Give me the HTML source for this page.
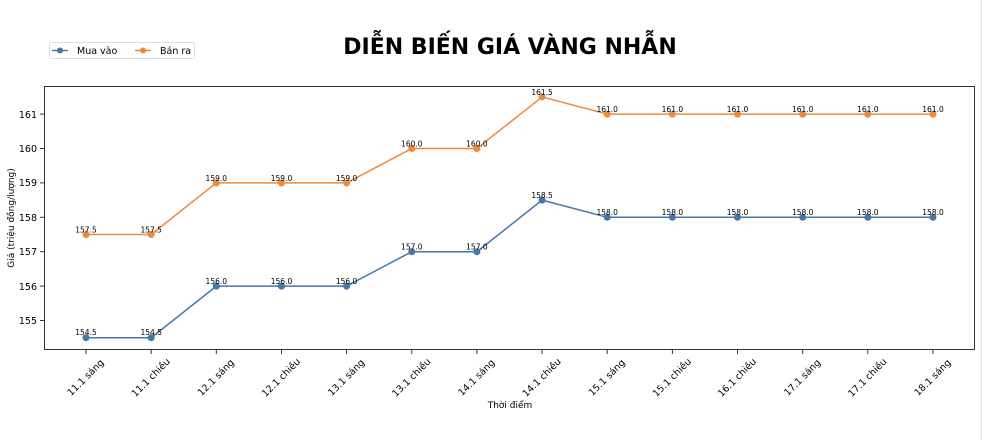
<!DOCTYPE html>
<html><head><meta charset="utf-8"><style>body{margin:0;background:#fff}svg{display:block}text{font-family:"DejaVu Sans","Liberation Sans",sans-serif}</style></head><body>
<svg width="982" height="440" viewBox="0 0 982 440" xmlns="http://www.w3.org/2000/svg">
<rect width="982" height="440" fill="#fff"/>
<line x1="981.5" y1="0" x2="981.5" y2="440" stroke="#ddd"/>
<text x="510" y="54" text-anchor="middle" font-size="22" font-weight="bold" fill="#000">DIỄN BIẾN GIÁ VÀNG NHẪN</text>
<rect x="49.5" y="42.5" width="145" height="16" fill="#fff" stroke="#ddd" rx="2"/>
<line x1="52" y1="50.5" x2="68" y2="50.5" stroke="#4477aa" stroke-width="1.5"/><circle cx="60" cy="50.5" r="3" fill="#4477aa"/>
<text x="77" y="54" font-size="9.5">Mua vào</text>
<line x1="135" y1="50.5" x2="151" y2="50.5" stroke="#ee8a3c" stroke-width="1.5"/><circle cx="143" cy="50.5" r="3" fill="#ee8a3c"/>
<text x="160" y="54" font-size="9.5">Bán ra</text>
<rect x="44.5" y="86.5" width="930" height="263" fill="none" stroke="#333" stroke-width="1"/>
<g stroke="#333"><line x1="40" y1="320.5" x2="44" y2="320.5"/><line x1="40" y1="286.1" x2="44" y2="286.1"/><line x1="40" y1="251.7" x2="44" y2="251.7"/><line x1="40" y1="217.3" x2="44" y2="217.3"/><line x1="40" y1="182.9" x2="44" y2="182.9"/><line x1="40" y1="148.5" x2="44" y2="148.5"/><line x1="40" y1="114.1" x2="44" y2="114.1"/></g>
<g font-size="9.5" text-anchor="end"><text x="37" y="324">155</text><text x="37" y="290">156</text><text x="37" y="255">157</text><text x="37" y="221">158</text><text x="37" y="186">159</text><text x="37" y="152">160</text><text x="37" y="118">161</text></g>
<text transform="translate(14,218) rotate(-90)" text-anchor="middle" font-size="9">Giá (triệu đồng/lượng)</text>
<text x="510" y="408" text-anchor="middle" font-size="9">Thời điểm</text>
<g stroke="#333"><line x1="86" y1="350" x2="86" y2="354"/><line x1="151.2" y1="350" x2="151.2" y2="354"/><line x1="216.3" y1="350" x2="216.3" y2="354"/><line x1="281.5" y1="350" x2="281.5" y2="354"/><line x1="346.6" y1="350" x2="346.6" y2="354"/><line x1="411.8" y1="350" x2="411.8" y2="354"/><line x1="476.9" y1="350" x2="476.9" y2="354"/><line x1="542.1" y1="350" x2="542.1" y2="354"/><line x1="607.2" y1="350" x2="607.2" y2="354"/><line x1="672.4" y1="350" x2="672.4" y2="354"/><line x1="737.5" y1="350" x2="737.5" y2="354"/><line x1="802.7" y1="350" x2="802.7" y2="354"/><line x1="867.8" y1="350" x2="867.8" y2="354"/><line x1="933" y1="350" x2="933" y2="354"/></g>
<g font-size="9.5" text-anchor="middle" dominant-baseline="central">
<text transform="translate(86,378) rotate(-45)">11.1 sáng</text>
<text transform="translate(151.2,378) rotate(-45)">11.1 chiều</text>
<text transform="translate(216.3,378) rotate(-45)">12.1 sáng</text>
<text transform="translate(281.5,378) rotate(-45)">12.1 chiều</text>
<text transform="translate(346.6,378) rotate(-45)">13.1 sáng</text>
<text transform="translate(411.8,378) rotate(-45)">13.1 chiều</text>
<text transform="translate(476.9,378) rotate(-45)">14.1 sáng</text>
<text transform="translate(542.1,378) rotate(-45)">14.1 chiều</text>
<text transform="translate(607.2,378) rotate(-45)">15.1 sáng</text>
<text transform="translate(672.4,378) rotate(-45)">15.1 chiều</text>
<text transform="translate(737.5,378) rotate(-45)">16.1 chiều</text>
<text transform="translate(802.7,378) rotate(-45)">17.1 sáng</text>
<text transform="translate(867.8,378) rotate(-45)">17.1 chiều</text>
<text transform="translate(933,378) rotate(-45)">18.1 sáng</text>
</g>
<polyline fill="none" stroke="#4477aa" stroke-width="1.5" points="86,337.7 151.2,337.7 216.3,286.1 281.5,286.1 346.6,286.1 411.8,251.7 476.9,251.7 542.1,200.1 607.2,217.3 672.4,217.3 737.5,217.3 802.7,217.3 867.8,217.3 933,217.3"/>
<g fill="#4477aa"><circle cx="86" cy="337.7" r="3.5"/><circle cx="151.2" cy="337.7" r="3.5"/><circle cx="216.3" cy="286.1" r="3.5"/><circle cx="281.5" cy="286.1" r="3.5"/><circle cx="346.6" cy="286.1" r="3.5"/><circle cx="411.8" cy="251.7" r="3.5"/><circle cx="476.9" cy="251.7" r="3.5"/><circle cx="542.1" cy="200.1" r="3.5"/><circle cx="607.2" cy="217.3" r="3.5"/><circle cx="672.4" cy="217.3" r="3.5"/><circle cx="737.5" cy="217.3" r="3.5"/><circle cx="802.7" cy="217.3" r="3.5"/><circle cx="867.8" cy="217.3" r="3.5"/><circle cx="933" cy="217.3" r="3.5"/></g>
<polyline fill="none" stroke="#ee8a3c" stroke-width="1.5" points="86,234.5 151.2,234.5 216.3,182.9 281.5,182.9 346.6,182.9 411.8,148.5 476.9,148.5 542.1,96.9 607.2,114.1 672.4,114.1 737.5,114.1 802.7,114.1 867.8,114.1 933,114.1"/>
<g fill="#ee8a3c"><circle cx="86" cy="234.5" r="3.5"/><circle cx="151.2" cy="234.5" r="3.5"/><circle cx="216.3" cy="182.9" r="3.5"/><circle cx="281.5" cy="182.9" r="3.5"/><circle cx="346.6" cy="182.9" r="3.5"/><circle cx="411.8" cy="148.5" r="3.5"/><circle cx="476.9" cy="148.5" r="3.5"/><circle cx="542.1" cy="96.9" r="3.5"/><circle cx="607.2" cy="114.1" r="3.5"/><circle cx="672.4" cy="114.1" r="3.5"/><circle cx="737.5" cy="114.1" r="3.5"/><circle cx="802.7" cy="114.1" r="3.5"/><circle cx="867.8" cy="114.1" r="3.5"/><circle cx="933" cy="114.1" r="3.5"/></g>
<g font-size="7.5" text-anchor="middle" fill="#000">
<text x="86" y="335">154.5</text><text x="151.2" y="335">154.5</text><text x="216.3" y="284">156.0</text><text x="281.5" y="284">156.0</text><text x="346.6" y="284">156.0</text><text x="411.8" y="249.5">157.0</text><text x="476.9" y="249.5">157.0</text><text x="542.1" y="198">158.5</text><text x="607.2" y="215">158.0</text><text x="672.4" y="215">158.0</text><text x="737.5" y="215">158.0</text><text x="802.7" y="215">158.0</text><text x="867.8" y="215">158.0</text><text x="933" y="215">158.0</text>
<text x="86" y="232.5">157.5</text><text x="151.2" y="232.5">157.5</text><text x="216.3" y="181">159.0</text><text x="281.5" y="181">159.0</text><text x="346.6" y="181">159.0</text><text x="411.8" y="146.5">160.0</text><text x="476.9" y="146.5">160.0</text><text x="542.1" y="95">161.5</text><text x="607.2" y="112">161.0</text><text x="672.4" y="112">161.0</text><text x="737.5" y="112">161.0</text><text x="802.7" y="112">161.0</text><text x="867.8" y="112">161.0</text><text x="933" y="112">161.0</text>
</g>
</svg>
</body></html>
